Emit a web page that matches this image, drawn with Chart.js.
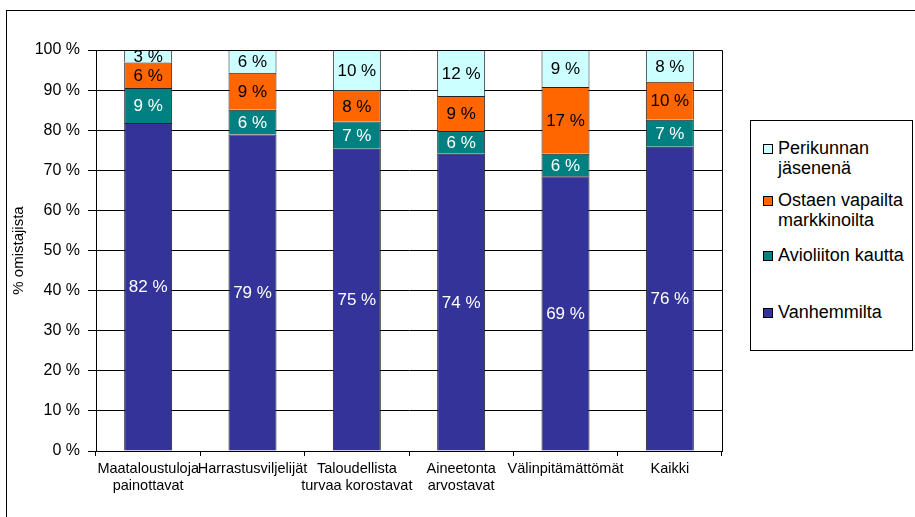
<!DOCTYPE html>
<html>
<head>
<meta charset="utf-8">
<script src="https://cdn.jsdelivr.net/npm/chart.js@4.4.1/dist/chart.umd.min.js"></script>
<style>
  html, body { margin: 0; padding: 0; background: #fff; }
  #wrap { position: relative; width: 915px; height: 517px; overflow: hidden; font-family: "Liberation Sans", Arial, sans-serif; }
  #frame { position: absolute; left: 6px; top: 10px; width: 920px; height: 520px; border-top: 1px solid #000; border-left: 1px solid #000; }
  #chart { position: absolute; left: 0; top: 0; }
  #legend { position: absolute; left: 750px; top: 120px; width: 161px; height: 229px; border: 1px solid #000; background: #fff; }
  .item { position: absolute; left: 12px; font-size: 18px; line-height: 20px; color: #000; }
  .sw { position: absolute; left: 0; top: 6px; width: 8px; height: 8px; border: 1px solid #000; }
  .txt { margin-left: 15px; }
</style>
</head>
<body>
<div id="wrap">
  <div id="frame"></div>
  <canvas id="chart" width="915" height="517"></canvas>
  <div id="legend"></div>
</div>
<script>
// Categories and series (percent of owners)
const categories = [
    ['Maataloustuloja', 'painottavat'],
    'Harrastusviljelijät',
    ['Taloudellista', 'turvaa korostavat'],
    ['Aineetonta', 'arvostavat'],
    'Välinpitämättömät',
    'Kaikki'
];
const vanhemmilta = [81.8, 78.9, 75.4, 74.1, 68.5, 75.9];
const avioliitonKautta = [8.7, 6.2, 6.8, 5.7, 5.6, 6.7];
const ostaenVapailta = [6.4, 9.2, 7.7, 8.7, 16.7, 9.5];
const perikunnanJasenena = [3.1, 5.7, 10.1, 11.5, 9.2, 7.9];
const yTicks = [0, 10, 20, 30, 40, 50, 60, 70, 80, 90, 100];

const series = [
    { label: 'Vanhemmilta', data: vanhemmilta, color: '#333399', text: '#fff' },
    { label: 'Avioliiton kautta', data: avioliitonKautta, color: '#008080', text: '#fff' },
    { label: 'Ostaen vapailta markkinoilta', data: ostaenVapailta, color: '#FF6600', text: '#000' },
    { label: 'Perikunnan jäsenenä', data: perikunnanJasenena, color: '#CCFFFF', text: '#000' }
];

const FONT = '"Liberation Sans", Arial, sans-serif';

// Legend (top to bottom in reverse stack order)
const legendPos = [
    { top: 17, lines: ['Perikunnan', 'jäsenenä'] },
    { top: 69, lines: ['Ostaen vapailta', 'markkinoilta'] },
    { top: 124, lines: ['Avioliiton kautta'] },
    { top: 181, lines: ['Vanhemmilta'] }
];
const legendEl = document.getElementById('legend');
series.slice().reverse().forEach((s, i) => {
    const item = document.createElement('div');
    item.className = 'item';
    item.style.top = legendPos[i].top + 'px';
    item.innerHTML = '<span class="sw" style="background:' + s.color + '"></span><div class="txt">' +
        legendPos[i].lines.join('<br>') + '</div>';
    legendEl.appendChild(item);
});

// Percent labels in the middle of each segment
const segmentLabels = {
    id: 'segmentLabels',
    afterDatasetsDraw(chart) {
        const ctx = chart.ctx;
        ctx.save();
        ctx.font = '17px ' + FONT;
        ctx.textAlign = 'center';
        ctx.textBaseline = 'middle';
        chart.data.datasets.forEach((ds, di) => {
            const meta = chart.getDatasetMeta(di);
            meta.data.forEach((bar, i) => {
                ctx.fillStyle = series[di].text;
                ctx.fillText(Math.round(ds.data[i]) + ' %', bar.x, (bar.y + bar.base) / 2 + 1);
            });
        });
        ctx.restore();
    }
};

// Plot area border (top and right)
const plotBorder = {
    id: 'plotBorder',
    afterDraw(chart) {
        const a = chart.chartArea;
        const ctx = chart.ctx;
        ctx.save();
        ctx.strokeStyle = '#000';
        ctx.lineWidth = 1;
        ctx.beginPath();
        ctx.moveTo(Math.round(a.left) + 0.5, Math.round(a.top) + 0.5);
        ctx.lineTo(Math.round(a.right) + 0.5, Math.round(a.top) + 0.5);
        ctx.lineTo(Math.round(a.right) + 0.5, Math.round(a.bottom) + 0.5);
        ctx.stroke();
        ctx.restore();
    }
};

new Chart(document.getElementById('chart'), {
    type: 'bar',
    data: {
        labels: categories,
        datasets: series.map(s => ({
            label: s.label,
            data: s.data,
            backgroundColor: s.color,
            borderColor: '#222',
            borderWidth: 1,
            barPercentage: 0.46,
            categoryPercentage: 1
        }))
    },
    options: {
        responsive: false,
        animation: false,
        layout: { padding: { left: 10, top: 50, right: 193, bottom: 0 } },
        plugins: {
            legend: { display: false },
            tooltip: { enabled: false }
        },
        scales: {
            x: {
                stacked: true,
                offset: true,
                grid: { display: true, drawOnChartArea: false, offset: true, color: '#000', tickLength: 5 },
                border: { color: '#000' },
                ticks: {
                    color: '#000',
                    font: { family: FONT, size: 14.5, lineHeight: 1.17 },
                    padding: 5,
                    maxRotation: 0,
                    autoSkip: false
                },
                afterFit(scale) { scale.height = 66; }
            },
            y: {
                stacked: true,
                min: 0,
                max: 100,
                afterBuildTicks(scale) { scale.ticks = yTicks.map(v => ({ value: v })); },
                grid: { color: '#000', lineWidth: 1, tickLength: 8 },
                border: { color: '#000' },
                ticks: {
                    color: '#000',
                    font: { family: FONT, size: 16 },
                    padding: 8,
                    callback: v => v + ' %'
                },
                title: {
                    display: true,
                    text: '% omistajista',
                    color: '#000',
                    font: { family: FONT, size: 15 },
                    padding: 0
                },
                afterFit(scale) { scale.width = 86; }
            }
        }
    },
    plugins: [segmentLabels, plotBorder]
});
</script>
</body>
</html>
